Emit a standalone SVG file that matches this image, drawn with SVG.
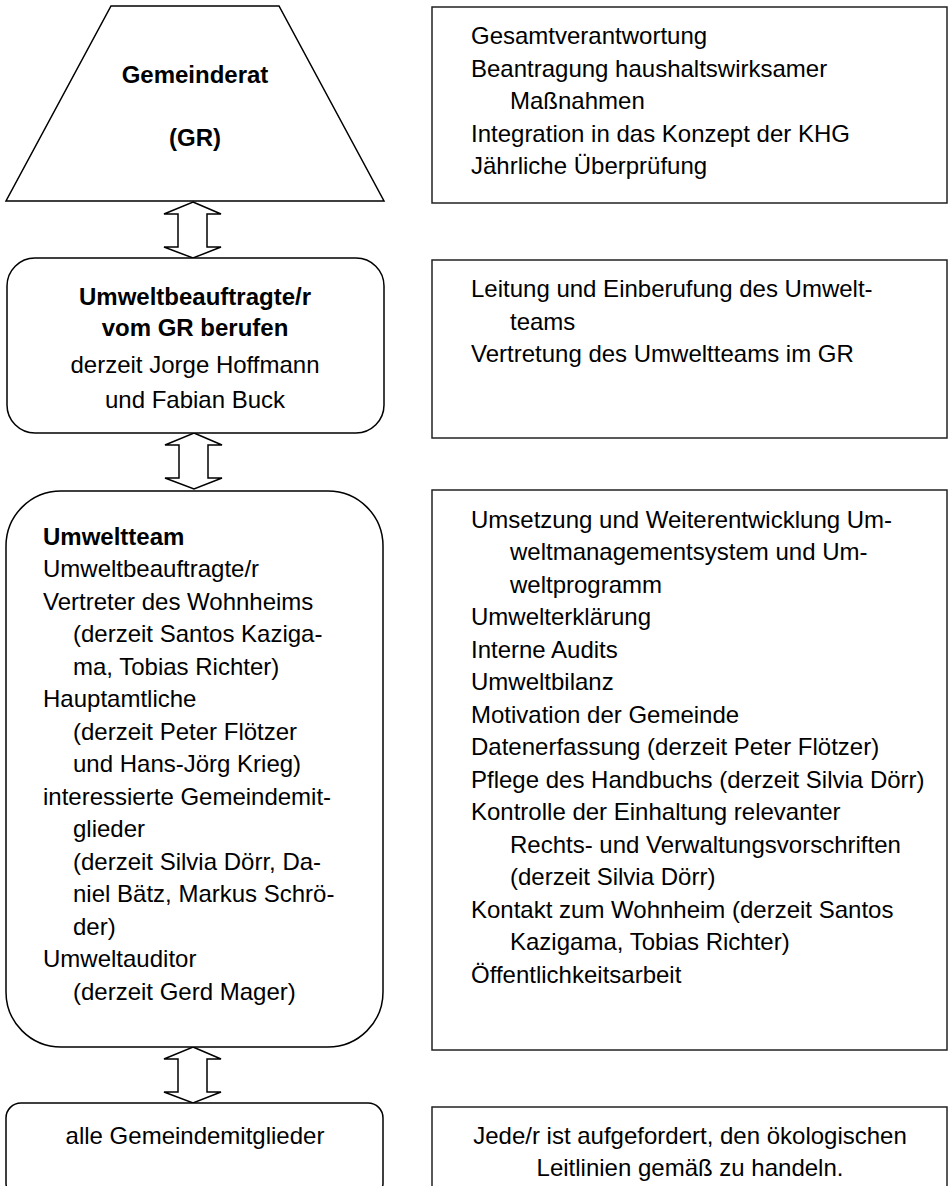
<svg xmlns="http://www.w3.org/2000/svg" xmlns:xlink="http://www.w3.org/1999/xlink" width="948" height="1186" viewBox="0 0 948 1186">
<style>
.shape{fill:#fff;stroke:#000;stroke-width:1.5}
.box{fill:#fff;stroke:#222;stroke-width:1.5}
text{font-family:"Liberation Sans",Arial,sans-serif;font-size:24px;fill:#000}
.b{font-weight:bold}
.c{text-anchor:middle}
.arrow{fill:#fff;stroke:#000;stroke-width:1.5;stroke-linejoin:miter}
</style>
<defs>
<path id="dblarrow" class="arrow" d="M0,0 L28,12 L14,12 L14,45 L28,45 L0,56 L-29,45 L-15,45 L-15,12 L-29,12 Z"/>
</defs>
<rect width="948" height="1186" fill="#fff"/>

<g id="connectors">
<use xlink:href="#dblarrow" href="#dblarrow" x="193" y="202"/>
<use xlink:href="#dblarrow" href="#dblarrow" x="194" y="433"/>
<use xlink:href="#dblarrow" href="#dblarrow" x="193" y="1047"/>
</g>

<g id="gemeinderat">
<polygon class="shape" points="111,6 279,6 384,201 6,201"/>
<text class="b c" x="195" y="83">Gemeinderat</text>
<text class="b c" x="195" y="146">(GR)</text>
</g>

<g id="umweltbeauftragte">
<rect class="shape" x="7" y="258" width="377" height="175" rx="28" ry="28"/>
<text class="b c" x="195" y="305">Umweltbeauftragte/r</text>
<text class="b c" x="195" y="336">vom GR berufen</text>
<text class="c" x="195" y="373">derzeit Jorge Hoffmann</text>
<text class="c" x="195" y="408">und Fabian Buck</text>
</g>

<g id="umweltteam">
<rect class="shape" x="6" y="491" width="377" height="556" rx="55" ry="55"/>
<text class="b" x="43" y="545">Umweltteam</text>
<text x="43" y="577">Umweltbeauftragte/r</text>
<text x="43" y="609.5">Vertreter des Wohnheims</text>
<text x="73" y="642">(derzeit Santos Kaziga-</text>
<text x="73" y="674.5">ma, Tobias Richter)</text>
<text x="43" y="707">Hauptamtliche</text>
<text x="73" y="739.5">(derzeit Peter Flötzer</text>
<text x="73" y="772">und Hans-Jörg Krieg)</text>
<text x="43" y="804.5">interessierte Gemeindemit-</text>
<text x="73" y="837">glieder</text>
<text x="73" y="869.5">(derzeit Silvia Dörr, Da-</text>
<text x="73" y="902">niel Bätz, Markus Schrö-</text>
<text x="73" y="934.5">der)</text>
<text x="43" y="967">Umweltauditor</text>
<text x="73" y="999.5">(derzeit Gerd Mager)</text>
</g>

<g id="alle">
<rect class="shape" x="6" y="1103" width="377" height="95" rx="15" ry="15"/>
<text class="c" x="195" y="1144">alle Gemeindemitglieder</text>
</g>

<g id="aufgaben-gr">
<rect class="box" x="432" y="7" width="515" height="196"/>
<text x="471" y="44">Gesamtverantwortung</text>
<text x="471" y="76.5">Beantragung haushaltswirksamer</text>
<text x="510" y="109">Maßnahmen</text>
<text x="471" y="141.5">Integration in das Konzept der KHG</text>
<text x="471" y="174">Jährliche Überprüfung</text>
</g>

<g id="aufgaben-ub">
<rect class="box" x="432" y="260" width="515" height="178"/>
<text x="471" y="297">Leitung und Einberufung des Umwelt-</text>
<text x="510" y="329.5">teams</text>
<text x="471" y="362">Vertretung des Umweltteams im GR</text>
</g>

<g id="aufgaben-team">
<rect class="box" x="432" y="490" width="515" height="560"/>
<text x="471" y="527.5">Umsetzung und Weiterentwicklung Um-</text>
<text x="510" y="560">weltmanagementsystem und Um-</text>
<text x="510" y="592.5">weltprogramm</text>
<text x="471" y="625">Umwelterklärung</text>
<text x="471" y="657.5">Interne Audits</text>
<text x="471" y="690">Umweltbilanz</text>
<text x="471" y="722.5">Motivation der Gemeinde</text>
<text x="471" y="755">Datenerfassung (derzeit Peter Flötzer)</text>
<text x="471" y="787.5">Pflege des Handbuchs (derzeit Silvia Dörr)</text>
<text x="471" y="820">Kontrolle der Einhaltung relevanter</text>
<text x="510" y="852.5">Rechts- und Verwaltungsvorschriften</text>
<text x="510" y="885">(derzeit Silvia Dörr)</text>
<text x="471" y="917.5">Kontakt zum Wohnheim (derzeit Santos</text>
<text x="510" y="950">Kazigama, Tobias Richter)</text>
<text x="471" y="982.5">Öffentlichkeitsarbeit</text>
</g>

<g id="aufgaben-alle">
<rect class="box" x="432" y="1107" width="515" height="95"/>
<text class="c" x="690" y="1144">Jede/r ist aufgefordert, den ökologischen</text>
<text class="c" x="690" y="1176">Leitlinien gemäß zu handeln.</text>
</g>
</svg>
